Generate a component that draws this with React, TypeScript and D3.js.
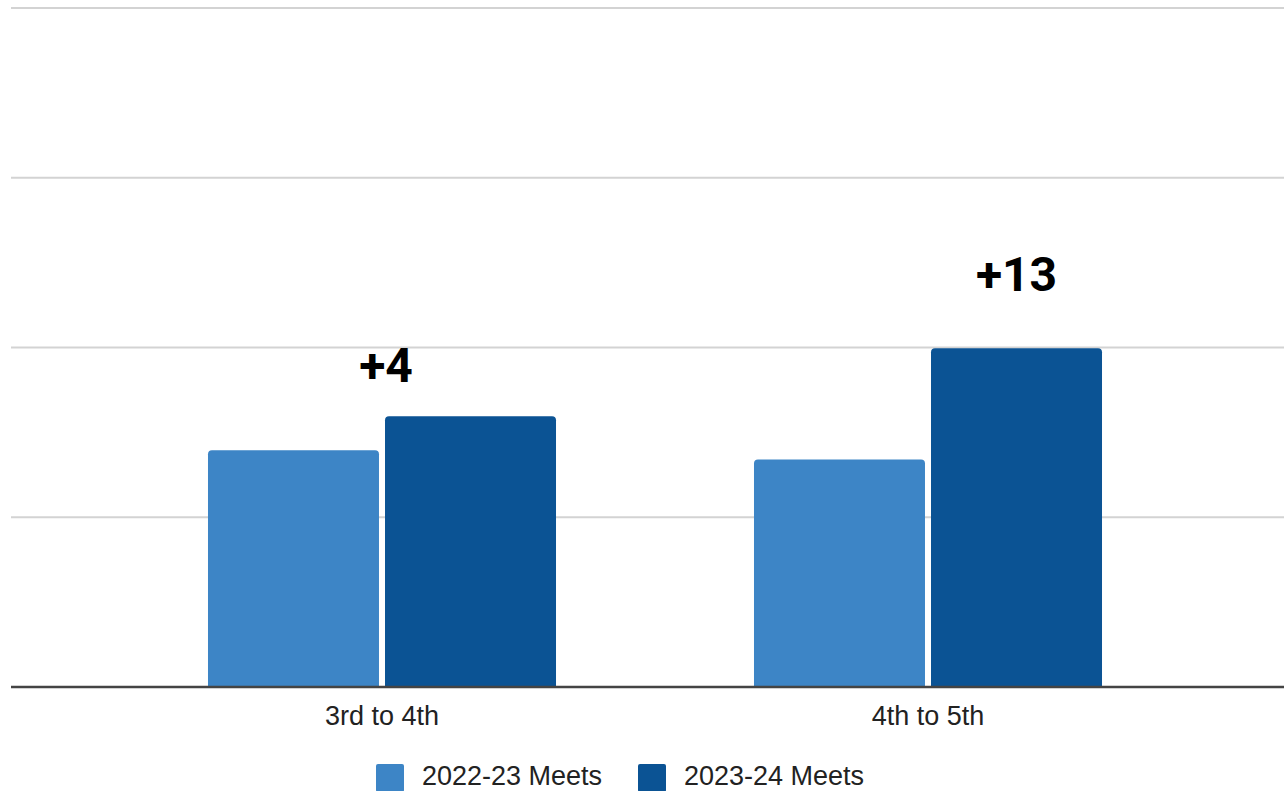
import React from "react";
import * as d3 from "d3";

const categories = ["3rd to 4th", "4th to 5th"];
const seriesNames = ["2022-23 Meets", "2023-24 Meets"];
const meets2022 = [27.9, 26.8];
const meets2023 = [31.9, 39.9];
const changeLabels = ["+4", "+13"];
const yTicks = [0, 20, 40, 60, 80];

const W = 1284;
const H = 791;
const colors = ["#3d85c6", "#0b5394"];

function topRoundedRect(x: number, y: number, w: number, h: number, r: number) {
  const rr = Math.min(r, w / 2, h);
  return `M${x},${y + h}V${y + rr}Q${x},${y} ${x + rr},${y}H${x + w - rr}Q${x + w},${y} ${x + w},${y + rr}V${y + h}Z`;
}

export default function App() {
  const plotLeft = 11;
  const plotRight = W;
  const y = d3.scaleLinear().domain([0, 80]).range([687, 8]);
  const x0 = d3
    .scaleBand<string>()
    .domain(categories)
    .range([109, 1201])
    .paddingInner(0.3626)
    .paddingOuter(0.1813);
  const x1 = d3
    .scaleBand<string>()
    .domain(seriesNames)
    .range([0, x0.bandwidth()])
    .paddingInner(0.034)
    .paddingOuter(0);
  const series = [meets2022, meets2023];

  // annotation placement: [anchor: "group" | "bar", dx, gap above bar top]
  const annoPlace = [
    { anchor: "group", dx: 4, gap: 34 },
    { anchor: "bar", dx: 0, gap: 57 },
  ];

  return (
    <svg
      width={W}
      height={H}
      style={{ position: "absolute", left: 0, top: 0, background: "#fff" }}
    >
      {yTicks.slice(1).map((t) => (
        <line
          key={t}
          x1={plotLeft}
          x2={plotRight}
          y1={y(t)}
          y2={y(t)}
          stroke="#d3d3d3"
          strokeWidth={2}
        />
      ))}
      {categories.map((c, i) => (
        <g key={c}>
          {series.map((s, j) => {
            const bx = (x0(c) ?? 0) + (x1(seriesNames[j]) ?? 0);
            const by = y(s[i]);
            return (
              <path
                key={j}
                d={topRoundedRect(bx, by, x1.bandwidth(), y(0) - by, 4)}
                fill={colors[j]}
              />
            );
          })}
        </g>
      ))}
      <line
        x1={plotLeft}
        x2={plotRight}
        y1={y(0)}
        y2={y(0)}
        stroke="#444"
        strokeWidth={2.5}
      />
      {categories.map((c) => (
        <text
          key={c}
          x={(x0(c) ?? 0) + x0.bandwidth() / 2}
          y={725}
          textAnchor="middle"
          fontFamily="'Liberation Sans', Arial, sans-serif"
          fontSize={27}
          fill="#222"
        >
          {c}
        </text>
      ))}
      {categories.map((c, i) => {
        const p = annoPlace[i];
        const cx =
          p.anchor === "group"
            ? (x0(c) ?? 0) + x0.bandwidth() / 2 + p.dx
            : (x0(c) ?? 0) + (x1(seriesNames[1]) ?? 0) + x1.bandwidth() / 2 + p.dx;
        return (
          <text
            key={c}
            x={cx}
            y={y(meets2023[i]) - p.gap}
            textAnchor="middle"
            fontFamily="Roboto, sans-serif"
            fontWeight="bold"
            fontSize={48}
            fill="#000"
          >
            {changeLabels[i]}
          </text>
        );
      })}
      {seriesNames.map((n, j) => {
        const lx = [376, 638][j];
        return (
          <g key={n}>
            <rect x={lx} y={764} width={28} height={28} rx={2} fill={colors[j]} />
            <text
              x={lx + 46}
              y={785}
              fontFamily="'Liberation Sans', Arial, sans-serif"
              fontSize={27}
              fill="#222"
            >
              {n}
            </text>
          </g>
        );
      })}
    </svg>
  );
}
